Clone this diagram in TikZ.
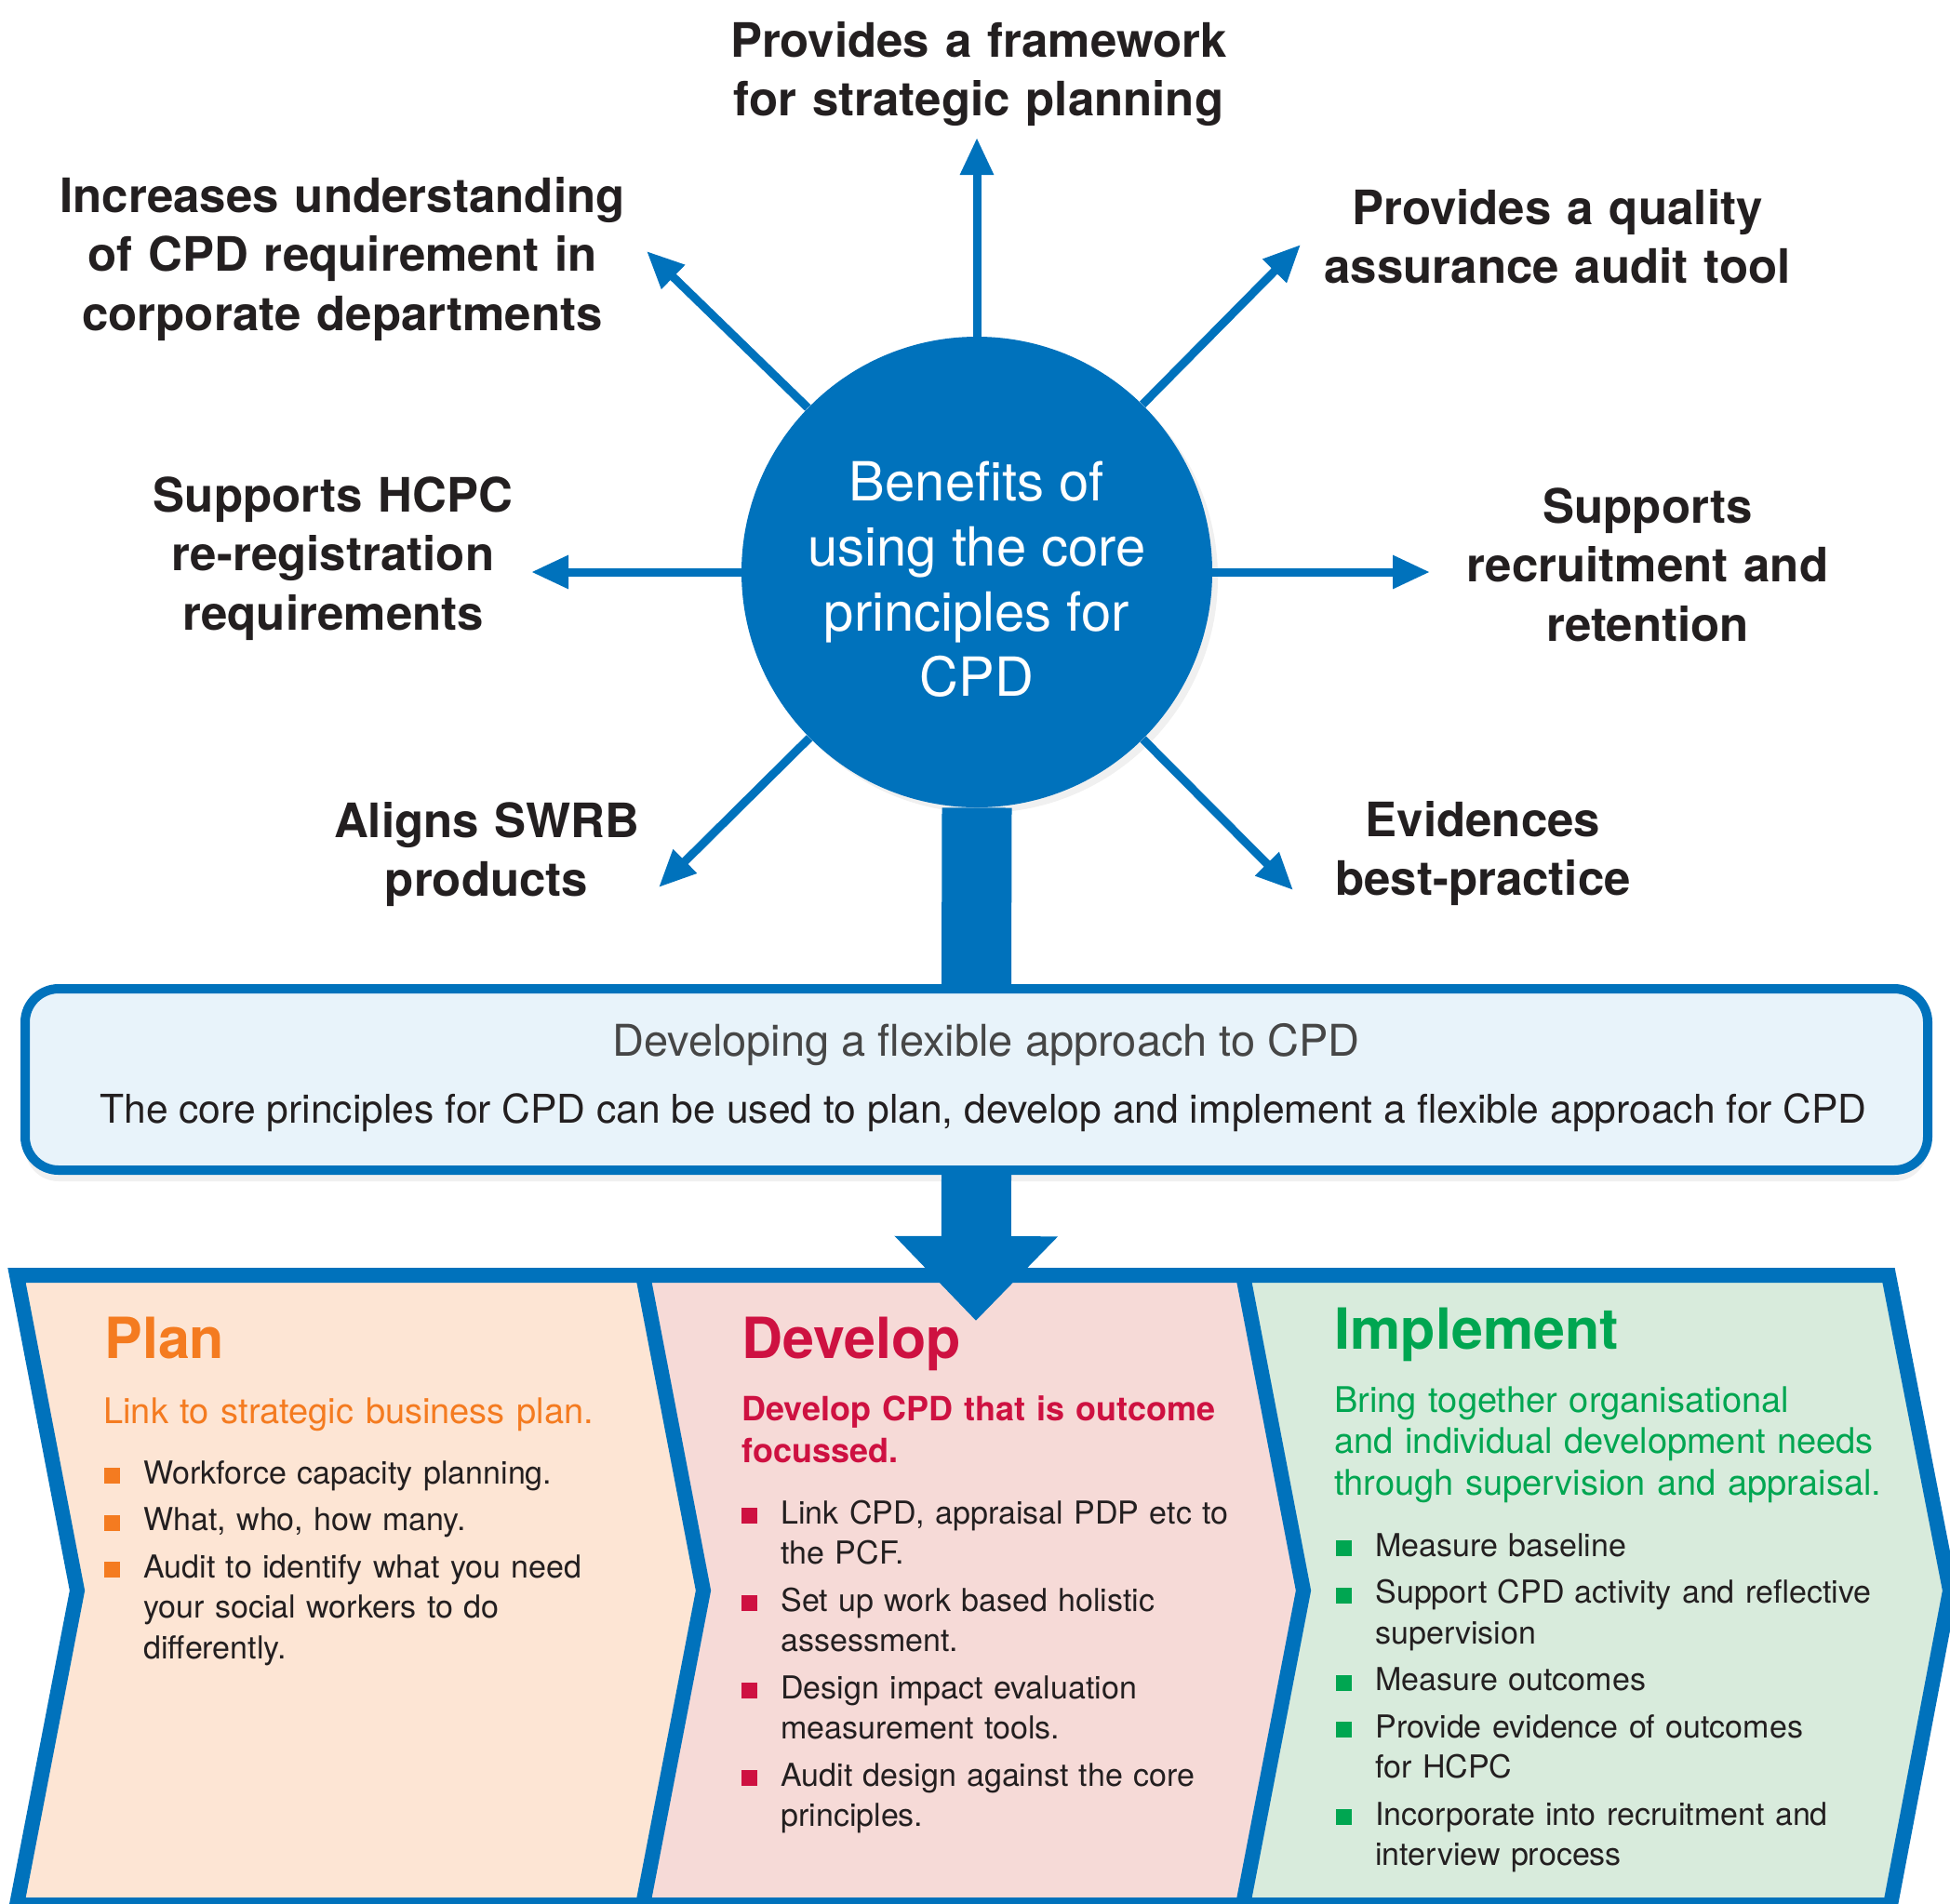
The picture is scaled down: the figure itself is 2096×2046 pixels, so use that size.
\documentclass[tikz,border=0pt]{standalone}
\usepackage{fontspec}
\setmainfont{TeX Gyre Heros}
\usetikzlibrary{arrows.meta}
\usetikzlibrary{shadows}

\definecolor{cpdblue}{RGB}{0,114,188}
\definecolor{boxfill}{RGB}{232,243,250}
\definecolor{planfill}{RGB}{253,229,212}
\definecolor{devfill}{RGB}{246,218,215}
\definecolor{impfill}{RGB}{216,235,220}
\definecolor{planorange}{RGB}{244,123,32}
\definecolor{devred}{RGB}{206,17,65}
\definecolor{impgreen}{RGB}{0,166,81}
\definecolor{textdark}{RGB}{35,31,32}
\definecolor{textgrey}{RGB}{70,70,70}

% one bullet line of a stage list
\newcommand{\bitem}[2]{\noindent\hangindent=21pt\hangafter=1%
  \makebox[21pt][l]{\textcolor{#1}{\rule{8.5pt}{8.5pt}}}#2\par}

\tikzset{
  spoke/.style={line width=4.5pt, cpdblue, -{Triangle[length=20pt,width=17pt]}},
  benefit/.style={text width=340pt, align=center, anchor=base, inner sep=0pt, text=textdark,
    font=\fontsize{25.5}{31.75}\selectfont\bfseries},
  hub/.style={circle, fill=cpdblue, minimum size=253pt, inner sep=0pt, text=white, align=center,
    font=\fontsize{29}{35}\selectfont, drop shadow={opacity=0.12, shadow xshift=3pt, shadow yshift=-3pt}},
  trunk/.style={line width=37.5pt, cpdblue},
  infobox/.style={draw=cpdblue, line width=5pt, fill=boxfill, rounded corners=18pt,
    minimum width=1022.5pt, minimum height=97.5pt,
    drop shadow={opacity=0.12, shadow xshift=0pt, shadow yshift=-6pt}},
  band/.style={draw=cpdblue, line width=8pt},
  stagehead/.style={anchor=base west, inner sep=0pt, font=\fontsize{30.5}{36}\selectfont\bfseries},
  stagesub/.style={text width=300pt, anchor=base west, align=left, inner sep=0pt,
    font=\fontsize{19}{22.25}\selectfont},
  stagelist/.style={text width=300pt, anchor=base west, align=left, inner sep=0pt, text=textdark,
    font=\fontsize{17}{21.75}\selectfont\setlength{\parskip}{3.5pt}},
}

\begin{document}
\begin{tikzpicture}[x=0.5pt,y=-0.5pt]
	\useasboundingbox (0,0) rectangle (2096,2046);
	% the three stages
	\fill[planfill] (18,1371) -- (691,1371) -- (756,1710) -- (691,2048) -- (18,2048) -- (83,1710) -- cycle;
	\fill[devfill] (691,1371) -- (1336,1371) -- (1401,1710) -- (1336,2048) -- (691,2048) -- (756,1710) -- cycle;
	\fill[impfill] (1336,1371) -- (2030,1371) -- (2096,1710) -- (2032,2048) -- (1336,2048) -- (1401,1710) -- cycle;
	\draw[band] (18,1371) -- (2030,1371) -- (2096,1710) -- (2032,2048) -- (18,2048) -- (83,1710) -- cycle;
	\draw[band] (691,1371) -- (756,1710) -- (691,2048);
	\draw[band] (1336,1371) -- (1401,1710) -- (1336,2048);

	\node[infobox] (approach) at (1049.5,1160.5) {};
	\node[hub] (hub) at (1050,615) {\rule{0pt}{29pt}Benefits of\\using the core\\principles for\\CPD};

	\draw[trunk] (hub.south) -- (approach.north);
	\coordinate (devtip) at (1049,1420);
	\draw[trunk,-{Triangle[length=45.5pt,width=85pt]}] (approach.south) -- (devtip);

	\node[anchor=base, inner sep=0pt, text=textgrey, font=\fontsize{23.5}{28}\selectfont] (approachtitle) at (1060,1135) {Developing a flexible approach to CPD};
	\node[anchor=base, inner sep=0pt, text=textdark, font=\fontsize{21.3}{25}\selectfont] (approachtext) at (1057,1207) {The core principles for CPD can be used to plan, develop and implement a flexible approach for CPD};

	% benefits round the hub
	\coordinate (tipN) at (1050,148);
	\coordinate (tipNE) at (1398,263);
	\coordinate (tipE) at (1537,615);
	\coordinate (tipSE) at (1390,957);
	\coordinate (tipSW) at (708,954);
	\coordinate (tipW) at (571,615);
	\coordinate (tipNW) at (695,270);
	\draw[spoke] (hub) -- (tipN);
	\draw[spoke] (hub) -- (tipNE);
	\draw[spoke] (hub) -- (tipE);
	\draw[spoke] (hub) -- (tipSE);
	\draw[spoke] (hub) -- (tipSW);
	\draw[spoke] (hub) -- (tipW);
	\draw[spoke] (hub) -- (tipNW);

	\node[benefit] (framework) at (1052,61) {Provides a framework\\for strategic planning};
	\node[benefit] (understanding) at (368,228) {Increases understanding\\of CPD requirement in\\corporate departments};
	\node[benefit] (quality) at (1674,241) {Provides a quality\\assurance audit tool};
	\node[benefit] (hcpc) at (358,550) {Supports HCPC\\re-registration\\requirements};
	\node[benefit] (recruitment) at (1771,562) {Supports\\recruitment and\\retention};
	\node[benefit] (swrb) at (523,900) {Aligns SWRB\\products};
	\node[benefit] (practice) at (1594,899) {Evidences\\best-practice};

	% Plan
	\node[stagehead, text=planorange] (planhead) at (112,1460) {Plan};
	\node[stagesub, text=planorange] (plansub) at (111,1530) {Link to strategic business plan.};
	\node[stagelist] (planlist) at (112,1595) {%
		\bitem{planorange}{Workforce capacity planning.}
		\bitem{planorange}{What, who, how many.}
		\bitem{planorange}{Audit to identify what you need\newline your social workers to do\newline differently.}};

	% Develop
	\node[stagehead, text=devred] (devhead) at (797,1460) {Develop};
	\node[stagesub, text=devred, font=\fontsize{18}{22.5}\selectfont\bfseries] (devsub) at (797,1527) {Develop CPD that is outcome\\focussed.};
	\node[stagelist] (devlist) at (797,1638) {%
		\bitem{devred}{Link CPD, appraisal PDP etc to\newline the PCF.}
		\bitem{devred}{Set up work based holistic\newline assessment.}
		\bitem{devred}{Design impact evaluation\newline measurement tools.}
		\bitem{devred}{Audit design against the core\newline principles.}};

	% Implement
	\node[stagehead, text=impgreen] (imphead) at (1434,1450) {Implement};
	\node[stagesub, text=impgreen] (impsub) at (1434,1518) {Bring together organisational\\and individual development needs\\through supervision and appraisal.};
	\node[stagelist] (implist) at (1436,1673) {%
		\bitem{impgreen}{Measure baseline}
		\bitem{impgreen}{Support CPD activity and reflective\newline supervision}
		\bitem{impgreen}{Measure outcomes}
		\bitem{impgreen}{Provide evidence of outcomes\newline for HCPC}
		\bitem{impgreen}{Incorporate into recruitment and\newline interview process}};
\end{tikzpicture}
\end{document}
